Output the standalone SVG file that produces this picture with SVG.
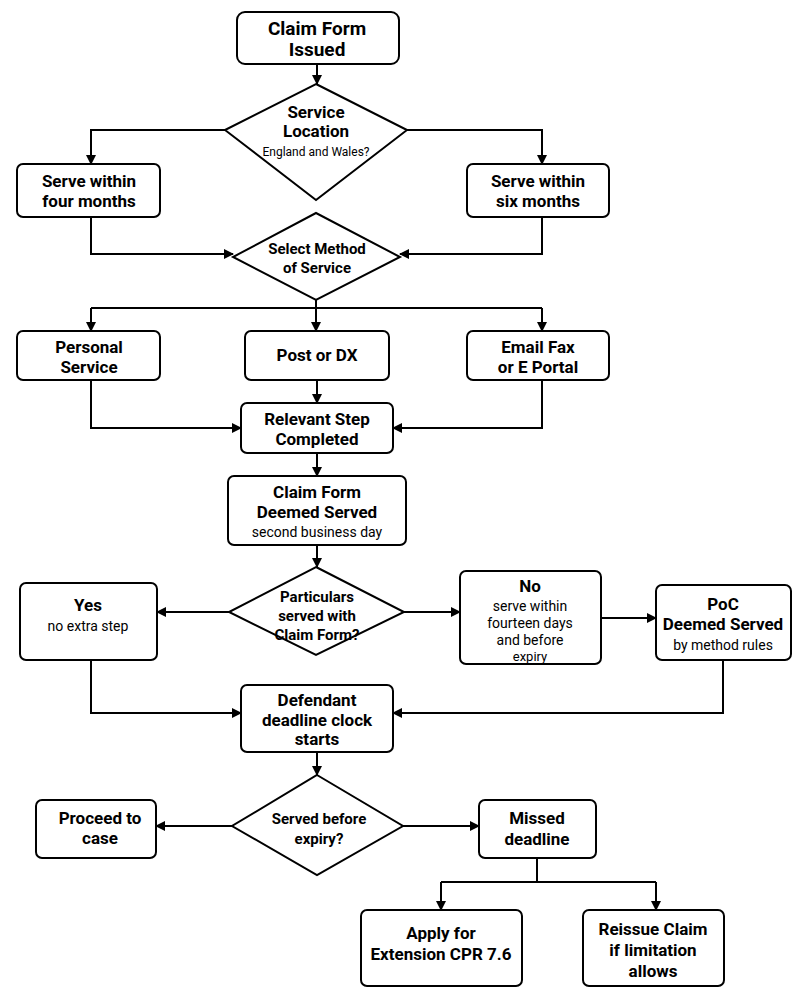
<svg xmlns="http://www.w3.org/2000/svg" width="807" height="1007" viewBox="0 0 807 1007">
<style>
.n{fill:#fff;stroke:#000;stroke-width:2}
.t{font-family:Roboto,"Liberation Sans",sans-serif;font-weight:bold;font-size:17px;text-anchor:middle;fill:#000}
.h{font-size:19px}
.s{font-family:Roboto,"Liberation Sans",sans-serif;font-size:14px;text-anchor:middle;fill:#000}
.c{fill:none;stroke:#000;stroke-width:2;marker-end:url(#a)}
.l{fill:none;stroke:#000;stroke-width:2}
</style>
<defs><marker id="a" markerWidth="10" markerHeight="10" refX="9" refY="5" orient="auto" markerUnits="userSpaceOnUse"><path d="M0,0L10,5L0,10z"/></marker></defs>
<rect width="807" height="1007" fill="#fff"/>
<g id="connectors">
<path class="c" d="M317,64V84"/>
<path class="c" d="M225,130H91V164"/>
<path class="c" d="M407,130H542V164"/>
<path class="c" d="M91,217V254H233"/>
<path class="c" d="M542,217V254H400"/>
<path class="l" d="M91,308H542"/>
<path class="c" d="M316,300V331"/>
<path class="c" d="M91,308V331"/>
<path class="c" d="M542,308V331"/>
<path class="c" d="M91,380V428H241"/>
<path class="c" d="M317,380V403"/>
<path class="c" d="M542,380V428H393"/>
<path class="c" d="M317,453V476"/>
<path class="c" d="M317,545V567"/>
<path class="c" d="M229,612H157"/>
<path class="c" d="M404,612H460"/>
<path class="c" d="M601,618H656"/>
<path class="c" d="M91,660V713H241"/>
<path class="c" d="M723,660V713H393"/>
<path class="c" d="M317,752V775"/>
<path class="c" d="M232,826H156"/>
<path class="c" d="M403,826H479"/>
<path class="l" d="M537,858V882M441,882H656"/>
<path class="c" d="M441,882V910"/>
<path class="c" d="M656,882V910"/>
</g>
<g id="claim-issued"><rect class="n" x="237" y="12" width="162" height="52" rx="8"/><text class="t h" x="317" y="35">Claim Form</text><text class="t h" x="317" y="56">Issued</text></g>
<g id="service-location"><path class="n" d="M316,84L407,130L316,200L225,130z"/><text class="t" x="316" y="118">Service</text><text class="t" x="316" y="137">Location</text><text class="s" x="316" y="156" style="font-size:12px">England and Wales?</text></g>
<g id="four-months"><rect class="n" x="17" y="164" width="143" height="53" rx="6"/><text class="t" x="89" y="187">Serve within</text><text class="t" x="89" y="207">four months</text></g>
<g id="six-months"><rect class="n" x="467" y="164" width="142" height="53" rx="6"/><text class="t" x="538" y="187">Serve within</text><text class="t" x="538" y="207">six months</text></g>
<g id="select-method"><path class="n" d="M316,213L400,257L316,300L233,257z"/><text class="t" x="317" y="254" style="font-size:15px">Select Method</text><text class="t" x="317" y="273" style="font-size:15px">of Service</text></g>
<g id="personal"><rect class="n" x="17" y="331" width="143" height="49" rx="6"/><text class="t" x="89" y="353">Personal</text><text class="t" x="89" y="373">Service</text></g>
<g id="post"><rect class="n" x="245" y="331" width="144" height="49" rx="6"/><text class="t" x="317" y="361">Post or DX</text></g>
<g id="email"><rect class="n" x="467" y="331" width="142" height="49" rx="6"/><text class="t" x="538" y="353">Email Fax</text><text class="t" x="538" y="373">or E Portal</text></g>
<g id="relevant"><rect class="n" x="241" y="403" width="152" height="50" rx="6"/><text class="t" x="317" y="425">Relevant Step</text><text class="t" x="317" y="445">Completed</text></g>
<g id="deemed"><rect class="n" x="228" y="476" width="178" height="69" rx="6"/><text class="t" x="317" y="498">Claim Form</text><text class="t" x="317" y="518">Deemed Served</text><text class="s" x="317" y="537">second business day</text></g>
<g id="particulars"><path class="n" d="M316,567L404,612L316,655L229,612z"/><text class="t" x="317" y="602" style="font-size:15px">Particulars</text><text class="t" x="317" y="621" style="font-size:15px">served with</text><text class="t" x="317" y="640" style="font-size:15px">Claim Form?</text></g>
<g id="yes"><rect class="n" x="20" y="583" width="137" height="77" rx="6"/><text class="t" x="88" y="611">Yes</text><text class="s" x="88" y="631">no extra step</text></g>
<g id="no"><rect class="n" x="460" y="571" width="141" height="93" rx="6"/><text class="t" x="530" y="592">No</text><text class="s" x="530" y="611">serve within</text><text class="s" x="530" y="628">fourteen days</text><text class="s" x="530" y="645">and before</text><text class="s" x="530" y="661" style="font-size:13px">expiry</text></g>
<g id="poc"><rect class="n" x="656" y="585" width="135" height="75" rx="6"/><text class="t" x="723" y="610">PoC</text><text class="t" x="723" y="630">Deemed Served</text><text class="s" x="723" y="650">by method rules</text></g>
<g id="clock"><rect class="n" x="241" y="685" width="152" height="67" rx="6"/><text class="t" x="317" y="706">Defendant</text><text class="t" x="317" y="726">deadline clock</text><text class="t" x="317" y="745">starts</text></g>
<g id="served-expiry"><path class="n" d="M317,775L403,826L317,875L232,826z"/><text class="t" x="319" y="824" style="font-size:15px">Served before</text><text class="t" x="319" y="844" style="font-size:15px">expiry?</text></g>
<g id="proceed"><rect class="n" x="36" y="800" width="120" height="58" rx="6"/><text class="t" x="100" y="824">Proceed to</text><text class="t" x="100" y="844">case</text></g>
<g id="missed"><rect class="n" x="479" y="800" width="117" height="58" rx="6"/><text class="t" x="537" y="824">Missed</text><text class="t" x="537" y="845">deadline</text></g>
<g id="extension"><rect class="n" x="361" y="910" width="161" height="76" rx="6"/><text class="t" x="441" y="939">Apply for</text><text class="t" x="441" y="960">Extension CPR 7.6</text></g>
<g id="reissue"><rect class="n" x="583" y="910" width="141" height="76" rx="6"/><text class="t" x="653" y="935">Reissue Claim</text><text class="t" x="653" y="956">if limitation</text><text class="t" x="653" y="977">allows</text></g>
</svg>
